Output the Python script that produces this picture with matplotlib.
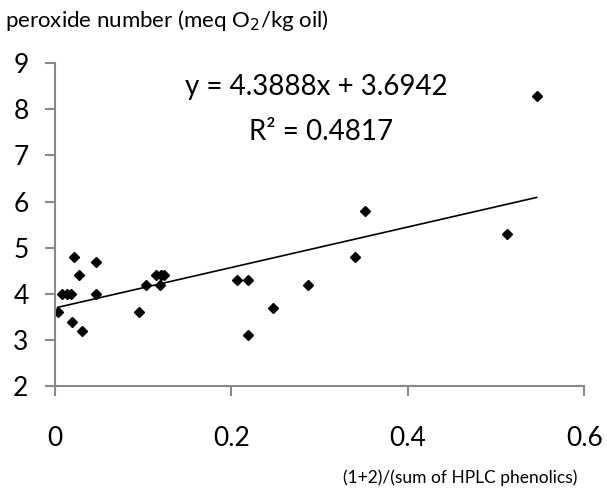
import matplotlib
matplotlib.use("Agg")
import matplotlib.pyplot as plt

# data
ratio = [0.003, 0.0075, 0.014, 0.018, 0.021, 0.027, 0.019, 0.031, 0.046, 0.046,
         0.095, 0.103, 0.114, 0.119, 0.120, 0.124, 0.206, 0.219, 0.219, 0.247,
         0.287, 0.340, 0.351, 0.512, 0.546]
peroxide = [3.6, 4.0, 4.0, 4.0, 4.8, 4.4, 3.4, 3.2, 4.7, 4.0,
            3.6, 4.2, 4.4, 4.2, 4.4, 4.4, 4.3, 4.3, 3.1, 3.7,
            4.2, 4.8, 5.8, 5.3, 8.3]
slope = 4.3888
intercept = 3.6942
r2 = 0.4817

x_ticks = [0, 0.2, 0.4, 0.6]
x_tick_labels = ["0", "0.2", "0.4", "0.6"]
y_ticks = [2, 3, 4, 5, 6, 7, 8, 9]

plt.rcParams['font.family'] = ['Lato', 'DejaVu Sans']
fig = plt.figure(figsize=(6.07, 4.90), dpi=100)
ax = fig.add_axes([0.0906, 0.212, 0.872, 0.659])

ax.plot(ratio, peroxide, 'D', color='black', markersize=5, linestyle='none')

# linear trendline over the data range
x_line = [min(ratio), max(ratio)]
y_line = [slope * v + intercept for v in x_line]
ax.plot(x_line, y_line, color='black', linewidth=1.2)

ax.set_xlim(0, 0.6)
ax.set_ylim(2, 9)
ax.set_xticks(x_ticks)
ax.set_xticklabels(x_tick_labels)
ax.set_yticks(y_ticks)

for side in ['top', 'right']:
    ax.spines[side].set_visible(False)
for side in ['left', 'bottom']:
    ax.spines[side].set_color('#888888')
    ax.spines[side].set_linewidth(1.5)
ax.tick_params(axis='both', colors='#888888', length=7, width=1.5, labelsize=19,
               labelcolor='black', direction='out')
ax.tick_params(axis='x', pad=22)
ax.tick_params(axis='y', pad=12)

ax.text(0.296, 8.48, "y = %.4fx + %.4f" % (slope, intercept), fontsize=20,
        ha='center', va='center')
ax.text(0.302, 7.5, "R² = %.4f" % r2, fontsize=20,
        ha='center', va='center')

fig.text(0.008, 0.958, "peroxide number (meq O$_2$/kg oil)", fontsize=16,
         ha='left', va='center')
fig.text(0.951, 0.025, "(1+2)/(sum of HPLC phenolics)", fontsize=12.5,
         ha='right', va='center')

fig.savefig("out.png", dpi=100)
